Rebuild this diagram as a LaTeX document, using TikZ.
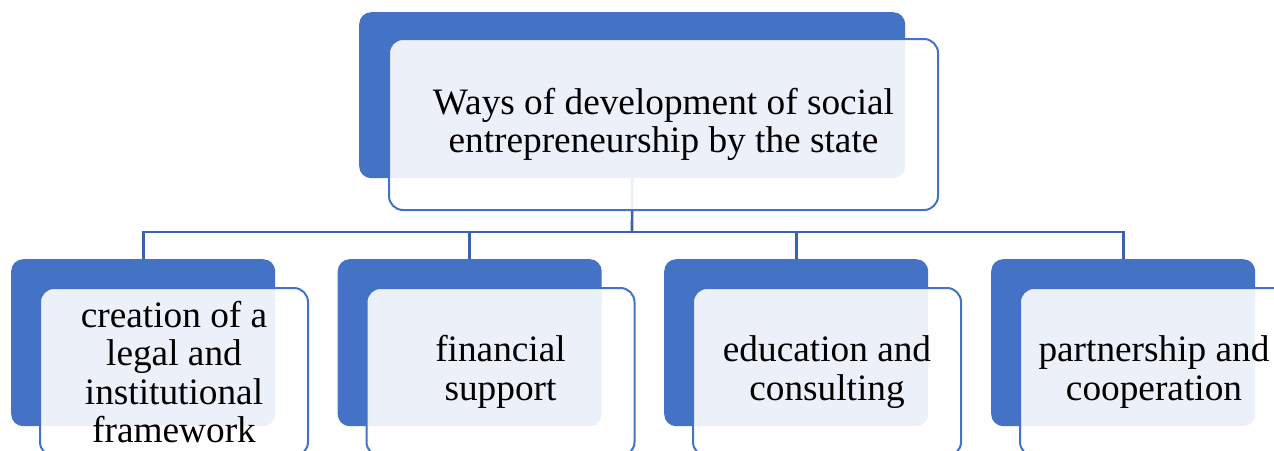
\documentclass[tikz,border=0pt]{standalone}
\usepackage{fontspec}
\setmainfont{Liberation Serif}
\definecolor{accent}{HTML}{4472C4}
\definecolor{linkcol}{HTML}{3A63AB}
\begin{document}
\begin{tikzpicture}[x=1pt,y=-1pt,
  backbox/.style={fill=accent,draw=none,rounded corners=12pt,inner sep=0pt,anchor=north west},
  frontbox/.style={fill=white,fill opacity=0.9,text opacity=1,draw=accent,line width=2pt,rounded corners=14pt,inner sep=0pt,anchor=north west,align=center,font=\fontsize{37.3}{38.5}\selectfont},
  link/.style={draw=linkcol,line width=2.6pt}]
\useasboundingbox (0,0) rectangle (1274,450);
% back boxes
\node[backbox,minimum width=546pt,minimum height=166pt] (tb) at (359,12) {};
\node[backbox,minimum width=264pt,minimum height=167pt] (b1) at (11,259) {};
\node[backbox,minimum width=264pt,minimum height=167pt] (b2) at (337.5,259) {};
\node[backbox,minimum width=264pt,minimum height=167pt] (b3) at (664,259) {};
\node[backbox,minimum width=264pt,minimum height=167pt] (b4) at (991,259) {};
% connectors
\coordinate (j) at (632,232);
\draw[link] (tb.south) -- (j);
\draw[link] (b1.north) |- (j);
\draw[link] (b2.north) |- (j);
\draw[link] (b3.north) |- (j);
\draw[link] (b4.north) |- (j);
% front boxes
\node[frontbox,minimum width=549pt,minimum height=171pt] (tf) at (388,38) {Ways of development of social\\entrepreneurship by the state};
\node[frontbox,minimum width=268pt,minimum height=168pt] (f1) at (39,287) {creation of a\\legal and\\institutional\\framework};
\node[frontbox,minimum width=268pt,minimum height=168pt] (f2) at (365.5,287) {financial\\support};
\node[frontbox,minimum width=268pt,minimum height=168pt] (f3) at (692,287) {education and\\consulting};
\node[frontbox,minimum width=268pt,minimum height=168pt] (f4) at (1019,287) {partnership and\\cooperation};
\end{tikzpicture}
\end{document}
